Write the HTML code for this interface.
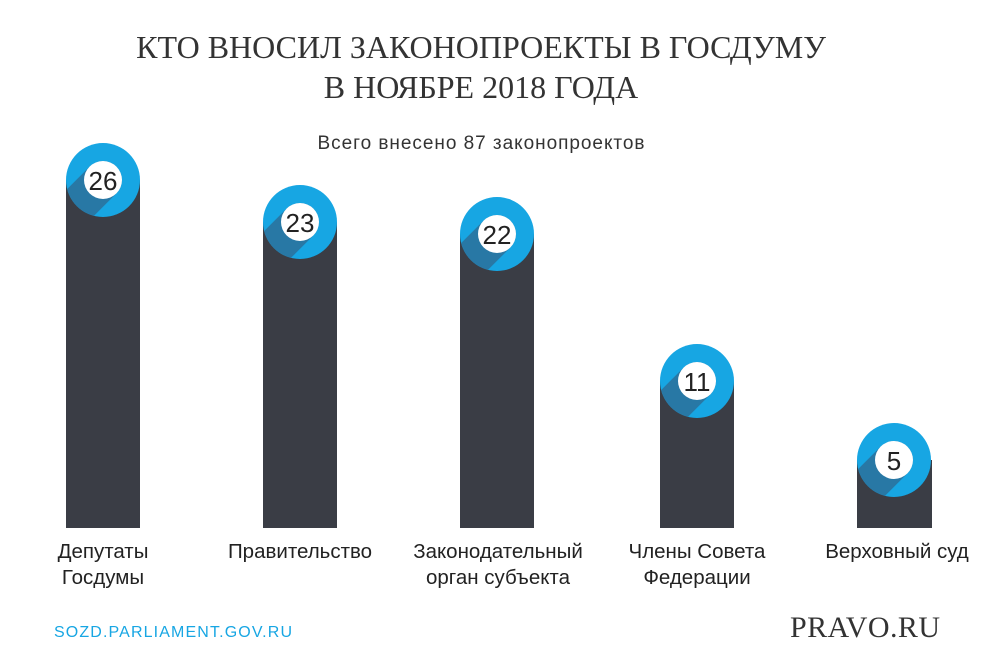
<!DOCTYPE html>
<html><head><meta charset="utf-8"><style>
body{margin:0;background:#fff;}
svg{display:block;}
</style></head><body>
<svg width="1000" height="671" viewBox="0 0 1000 671" xmlns="http://www.w3.org/2000/svg">
<defs>
<clipPath id="c"><circle cx="0" cy="0" r="37"/></clipPath>
<g id="badge">
<circle cx="0" cy="0" r="37" fill="#17a6e3"/>
<g clip-path="url(#c)"><line x1="0" y1="0" x2="-22" y2="22" stroke="#2878a5" stroke-width="38" stroke-linecap="round"/></g>
<circle cx="0" cy="0" r="19" fill="#fff"/>
</g>
</defs>
<g font-family="Liberation Serif, serif" font-size="32" fill="#333" text-anchor="middle">
<text x="481" y="58">КТО ВНОСИЛ ЗАКОНОПРОЕКТЫ В ГОСДУМУ</text>
<text x="481" y="98">В НОЯБРЕ 2018 ГОДА</text>
</g>
<text x="481" y="149" font-family="Liberation Sans, sans-serif" font-size="19" fill="#333" text-anchor="middle" textLength="327">Всего внесено 87 законопроектов</text>
<g fill="#3a3d45">
<rect x="66" y="180" width="74" height="348"/>
<rect x="263" y="222" width="74" height="306"/>
<rect x="460" y="234" width="74" height="294"/>
<rect x="660" y="381" width="74" height="147"/>
<rect x="857" y="460" width="75" height="68"/>
</g>
<use href="#badge" x="103" y="180"/>
<use href="#badge" x="300" y="222"/>
<use href="#badge" x="497" y="234"/>
<use href="#badge" x="697" y="381"/>
<use href="#badge" x="894" y="460"/>
<g font-family="Liberation Sans, sans-serif" font-size="26" fill="#222" text-anchor="middle">
<text x="103" y="190">26</text>
<text x="300" y="232">23</text>
<text x="497" y="244">22</text>
<text x="697" y="391">11</text>
<text x="894" y="470">5</text>
</g>
<g font-family="Liberation Sans, sans-serif" font-size="20.5" fill="#222" text-anchor="middle">
<text x="103" y="558">Депутаты</text>
<text x="103" y="584">Госдумы</text>
<text x="300" y="558">Правительство</text>
<text x="498" y="558">Законодательный</text>
<text x="498" y="584">орган субъекта</text>
<text x="697" y="558">Члены Совета</text>
<text x="697" y="584">Федерации</text>
<text x="897" y="558">Верховный суд</text>
</g>
<text x="54" y="637" font-family="Liberation Sans, sans-serif" font-size="16" fill="#17a6e3" textLength="238">SOZD.PARLIAMENT.GOV.RU</text>
<text x="940" y="637" font-family="Liberation Serif, serif" font-size="30" fill="#333" text-anchor="end" textLength="150">PRAVO.RU</text>
</svg>
</body></html>
